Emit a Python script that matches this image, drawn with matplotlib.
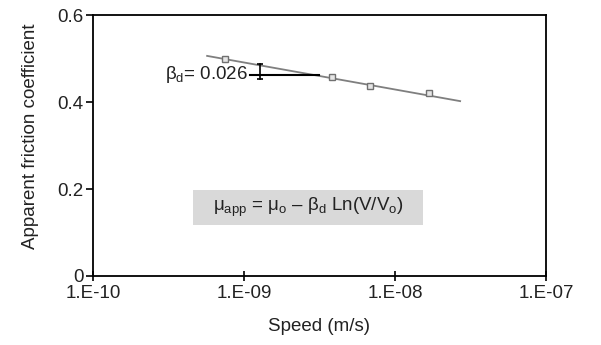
import numpy as np
import matplotlib
matplotlib.use("Agg")
import matplotlib.pyplot as plt
from matplotlib.patches import Rectangle

plt.rcParams['font.family'] = ['Liberation Sans', 'DejaVu Sans']
plt.rcParams['mathtext.fontset'] = 'custom'
plt.rcParams['mathtext.rm'] = 'Liberation Sans'
plt.rcParams['mathtext.it'] = 'Liberation Sans'
plt.rcParams['mathtext.default'] = 'regular'

# measured points
speed = [7.5e-10, 3.8e-9, 6.8e-9, 1.68e-8]
mu = [0.499, 0.457, 0.437, 0.421]
# regression line end points
fit_speed = [5.7e-10, 2.7e-8]
fit_mu = [0.506, 0.402]
# beta_d marker
beta_x = [1.1e-9, 3.15e-9]
beta_y = 0.463
beta_bar_x = 1.28e-9
beta_bar_y = [0.452, 0.488]

xticks = [1e-10, 1e-9, 1e-8, 1e-7]
xlabels = ['1.E-10', '1.E-09', '1.E-08', '1.E-07']
yticks = [0, 0.2, 0.4, 0.6]
ylabels = ['0', '0.2', '0.4', '0.6']

fig = plt.figure(figsize=(6.01, 3.45), dpi=100)
ax = fig.add_axes([0.1547, 0.2, 0.7538, 0.7565])

ax.plot(fit_speed, fit_mu, color='#7f7f7f', lw=1.3, zorder=2)
ax.plot(speed, mu, ls='none', marker='s', ms=4.5, mfc='#e6e6e6',
        mec='#707070', mew=1.0, zorder=3)
ax.plot(beta_x, [beta_y, beta_y], color='black', lw=1.5, zorder=4)
ax.plot([beta_bar_x, beta_bar_x], beta_bar_y, color='black', lw=1.2,
        marker='_', ms=5, mew=1.2, zorder=4)
ax.text(1.07e-9, 0.463, r'$\beta_d$= 0.026', ha='right', va='center',
        fontsize=13.5, color='#222222', zorder=5)

ax.add_patch(Rectangle((0.221, 0.195), 0.507, 0.135, transform=ax.transAxes,
                       fc='#d9d9d9', ec='none', zorder=1))
ax.text(0.4745, 0.262, r'$\mu_{app}$ = $\mu_o$ – $\beta_d$ Ln(V/V$_o$)',
        transform=ax.transAxes, ha='center', va='center', fontsize=13.5,
        color='#222222', zorder=2)

ax.set_xscale('log')
ax.set_xlim(1e-10, 1e-7)
ax.set_ylim(0, 0.6)
ax.set_xticks(xticks)
ax.set_xticklabels(xlabels)
ax.minorticks_off()
ax.set_yticks(yticks)
ax.set_yticklabels(ylabels)
ax.tick_params(axis='x', direction='inout', length=7, width=1.2, labelsize=13.5,
               pad=3, labelcolor='#222222')
ax.tick_params(axis='y', direction='out', length=5, width=1.2, labelsize=13.5,
               pad=2, labelcolor='#222222')
for s in ax.spines.values():
    s.set_linewidth(1.3)

ax.set_xlabel('Speed (m/s)', fontsize=13.5, color='#222222')
ax.set_ylabel('Apparent friction coefficient', fontsize=13.5, color='#222222')
ax.xaxis.set_label_coords(0.5, -0.161)
ax.yaxis.set_label_coords(-0.119, 0.536)

fig.savefig('out.png', dpi=100)
